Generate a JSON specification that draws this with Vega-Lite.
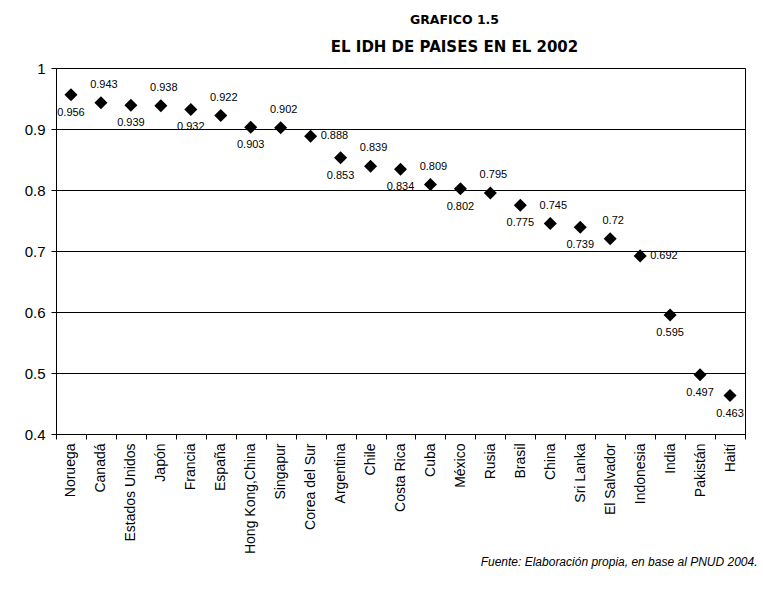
{
  "$schema": "https://vega.github.io/schema/vega-lite/v6.json",
  "autosize": {"type": "none"},
  "width": 689,
  "height": 366,
  "padding": {"left": 56, "top": 68, "right": 18, "bottom": 156},
  "background": "white",
  "title": {
    "text": "GRAFICO 1.5",
    "subtitle": "EL IDH DE PAISES EN EL 2002",
    "font": "DejaVu Sans",
    "fontSize": 12.5,
    "fontWeight": "bold",
    "subtitleFont": "DejaVu Sans",
    "subtitleFontSize": 15,
    "subtitleFontWeight": "bold",
    "subtitleColor": "black",
    "color": "black",
    "subtitlePadding": 14,
    "offset": 6,
    "dx": 54,
    "anchor": "middle"
  },
  "data": {
    "values": [
      {"pais": "Noruega", "idh": 0.956},
      {"pais": "Canadá", "idh": 0.943},
      {"pais": "Estados Unidos", "idh": 0.939},
      {"pais": "Japón", "idh": 0.938},
      {"pais": "Francia", "idh": 0.932},
      {"pais": "España", "idh": 0.922},
      {"pais": "Hong Kong,China", "idh": 0.903},
      {"pais": "Singapur", "idh": 0.902},
      {"pais": "Corea del Sur", "idh": 0.888},
      {"pais": "Argentina", "idh": 0.853},
      {"pais": "Chile", "idh": 0.839},
      {"pais": "Costa Rica", "idh": 0.834},
      {"pais": "Cuba", "idh": 0.809},
      {"pais": "México", "idh": 0.802},
      {"pais": "Rusia", "idh": 0.795},
      {"pais": "Brasil", "idh": 0.775},
      {"pais": "China", "idh": 0.745},
      {"pais": "Sri Lanka", "idh": 0.739},
      {"pais": "El Salvador", "idh": 0.72},
      {"pais": "Indonesia", "idh": 0.692},
      {"pais": "India", "idh": 0.595},
      {"pais": "Pakistán", "idh": 0.497},
      {"pais": "Haití", "idh": 0.463}
    ]
  },
  "encoding": {
    "x": {
      "field": "pais",
      "type": "nominal",
      "sort": null,
      "scale": {"paddingInner": 0, "paddingOuter": 0},
      "axis": {
        "title": "Fuente: Elaboración propia, en base al PNUD 2004.",
        "titleFont": "Liberation Sans",
        "titleFontStyle": "italic",
        "titleFontWeight": "normal",
        "titleFontSize": 12,
        "titleColor": "black",
        "titleAnchor": "end",
        "titleAlign": "right",
        "titleX": 701,
        "titleY": 122,
        "labelAngle": -90,
        "labelFont": "Liberation Sans",
        "labelFontSize": 14,
        "labelColor": "black",
        "labelPadding": 4,
        "tickBand": "extent",
        "tickColor": "black",
        "tickSize": 5,
        "domainColor": "black",
        "grid": false
      }
    },
    "y": {
      "field": "idh",
      "type": "quantitative",
      "scale": {"domain": [0.4, 1], "zero": false, "nice": false},
      "axis": {
        "title": null,
        "values": [0.4, 0.5, 0.6, 0.7, 0.8, 0.9, 1],
        "format": "~g",
        "labelFont": "Liberation Sans",
        "labelFontSize": 15,
        "labelColor": "black",
        "labelPadding": 6,
        "tickColor": "black",
        "tickSize": 5,
        "domainColor": "black",
        "gridColor": "black",
        "gridOpacity": 1,
        "gridWidth": 1
      }
    }
  },
  "layer": [
    {
      "mark": {"type": "point", "shape": "diamond", "filled": true, "color": "black", "size": 170, "opacity": 1}
    },
    {
      "transform": [{"filter": {"field": "pais", "oneOf": ["Canadá", "Japón", "España", "Singapur", "Chile", "Cuba", "Rusia", "China", "El Salvador"]}}],
      "mark": {"type": "text", "dy": -18, "dx": 3, "font": "Liberation Sans", "fontSize": 11, "color": "black"},
      "encoding": {"text": {"field": "idh", "type": "quantitative", "format": "~g"}}
    },
    {
      "transform": [{"filter": {"field": "pais", "oneOf": ["Noruega", "Estados Unidos", "Francia", "Hong Kong,China", "Argentina", "Costa Rica", "México", "Brasil", "Sri Lanka", "India", "Pakistán", "Haití"]}}],
      "mark": {"type": "text", "dy": 18, "font": "Liberation Sans", "fontSize": 11, "color": "black"},
      "encoding": {"text": {"field": "idh", "type": "quantitative", "format": "~g"}}
    },
    {
      "transform": [{"filter": {"field": "pais", "oneOf": ["Corea del Sur", "Indonesia"]}}],
      "mark": {"type": "text", "dx": 10, "align": "left", "font": "Liberation Sans", "fontSize": 11, "color": "black"},
      "encoding": {"text": {"field": "idh", "type": "quantitative", "format": "~g"}}
    }
  ],
  "config": {
    "view": {"stroke": "black", "strokeWidth": 1}
  }
}
